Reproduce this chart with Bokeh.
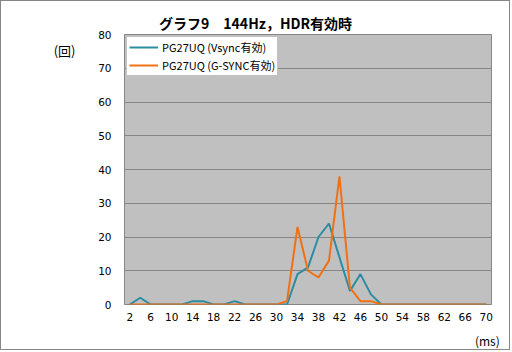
from bokeh.plotting import figure
from bokeh.models import Range1d, FixedTicker, Legend, LegendItem, LinearAxis
from bokeh.embed import file_html
from bokeh.resources import INLINE

# data
ms = [2, 4, 6, 8, 10, 12, 14, 16, 18, 20, 22, 24, 26, 28, 30, 32, 34, 36, 38, 40,
      42, 44, 46, 48, 50, 52, 54, 56, 58, 60, 62, 64, 66, 68, 70]
vsync = [0, 2, 0, 0, 0, 0, 1, 1, 0, 0, 1, 0, 0, 0, 0, 0, 9, 11, 20, 24,
         14, 4, 9, 3, 0, 0, 0, 0, 0, 0, 0, 0, 0, 0, 0]
gsync = [0, 0, 0, 0, 0, 0, 0, 0, 0, 0, 0, 0, 0, 0, 0, 1, 23, 10, 8, 13,
         38, 5, 1, 1, 0, 0, 0, 0, 0, 0, 0, 0, 0, 0, 0]
x_ticks = [2, 6, 10, 14, 18, 22, 26, 30, 34, 38, 42, 46, 50, 54, 58, 62, 66, 70]
y_ticks = [0, 10, 20, 30, 40, 50, 60, 70, 80]
series_names = ["PG27UQ (Vsync有効)", "PG27UQ (G-SYNC有効)"]
title_text = "グラフ9　144Hz，HDR有効時"
y_unit = "(回)"
x_unit = "(ms)"

FONT = "Noto Sans CJK JP"
NUMFONT = "DejaVu Sans"
TEAL = "#2b8ca3"
ORANGE = "#f07014"
GRAY = "#868686"

p = figure(width=510, height=350, output_backend="svg", toolbar_location=None,
           x_range=Range1d(1, 71), y_range=Range1d(0, 80),
           min_border_left=123, min_border_right=20, min_border_top=33, min_border_bottom=46)
p.styles = {"border": "1px solid #868686"}

p.background_fill_color = "#c0c0c0"
p.border_fill_color = "white"
p.outline_line_color = GRAY
p.outline_line_width = 1

p.xgrid.visible = False
p.ygrid.ticker = FixedTicker(ticks=y_ticks)
p.ygrid.grid_line_color = GRAY
p.ygrid.grid_line_width = 1


def style_axis(ax, size="11px", font=FONT):
    ax.axis_line_color = None
    ax.major_tick_line_color = None
    ax.minor_tick_line_color = None
    ax.major_label_text_font = font
    ax.major_label_text_font_size = size
    ax.major_label_text_color = "#000000"


style_axis(p.xaxis[0], "10.5px", NUMFONT)
style_axis(p.yaxis[0], "10.5px", NUMFONT)
p.xaxis.ticker = FixedTicker(ticks=x_ticks)
p.yaxis.ticker = FixedTicker(ticks=y_ticks)
p.xaxis.major_label_standoff = 2
p.yaxis.major_label_standoff = 7

# title as an axis label above the frame (empty axis label pushes it down)
t_ax = LinearAxis(ticker=FixedTicker(ticks=[26]), major_label_overrides={26: title_text})
style_axis(t_ax, "14px")
t_ax.major_label_text_font_style = "bold"
t_ax.major_label_standoff = -4
t_ax.axis_label = " "
t_ax.axis_label_text_font_size = "1px"
t_ax.axis_label_standoff = 3
p.add_layout(t_ax, "above")

# unit labels
yu_ax = LinearAxis(ticker=FixedTicker(ticks=[75.3]), major_label_overrides={75.3: y_unit})
style_axis(yu_ax, "13px")
yu_ax.major_label_standoff = 14
p.add_layout(yu_ax, "left")

xu_ax = LinearAxis(ticker=FixedTicker(ticks=[70.2]), major_label_overrides={70.2: x_unit})
style_axis(xu_ax, "12px")
xu_ax.major_label_standoff = 2
p.add_layout(xu_ax, "below")

r1 = p.line(ms, vsync, line_color=TEAL, line_width=2)
r2 = p.line(ms, gsync, line_color=ORANGE, line_width=2)

legend = Legend(items=[LegendItem(label=series_names[0], renderers=[r1]),
                       LegendItem(label=series_names[1], renderers=[r2])],
                location="top_left")
legend.margin = 2
legend.padding = 2
legend.spacing = 2
legend.label_height = 16
legend.glyph_height = 16
legend.glyph_width = 29
legend.label_standoff = 4
legend.label_text_font = FONT
legend.label_text_font_size = "11px"
legend.label_text_color = "#000000"
legend.border_line_color = GRAY
legend.background_fill_color = "white"
legend.background_fill_alpha = 1
p.add_layout(legend, "center")

open("out.html", "w").write(file_html(p, INLINE))
